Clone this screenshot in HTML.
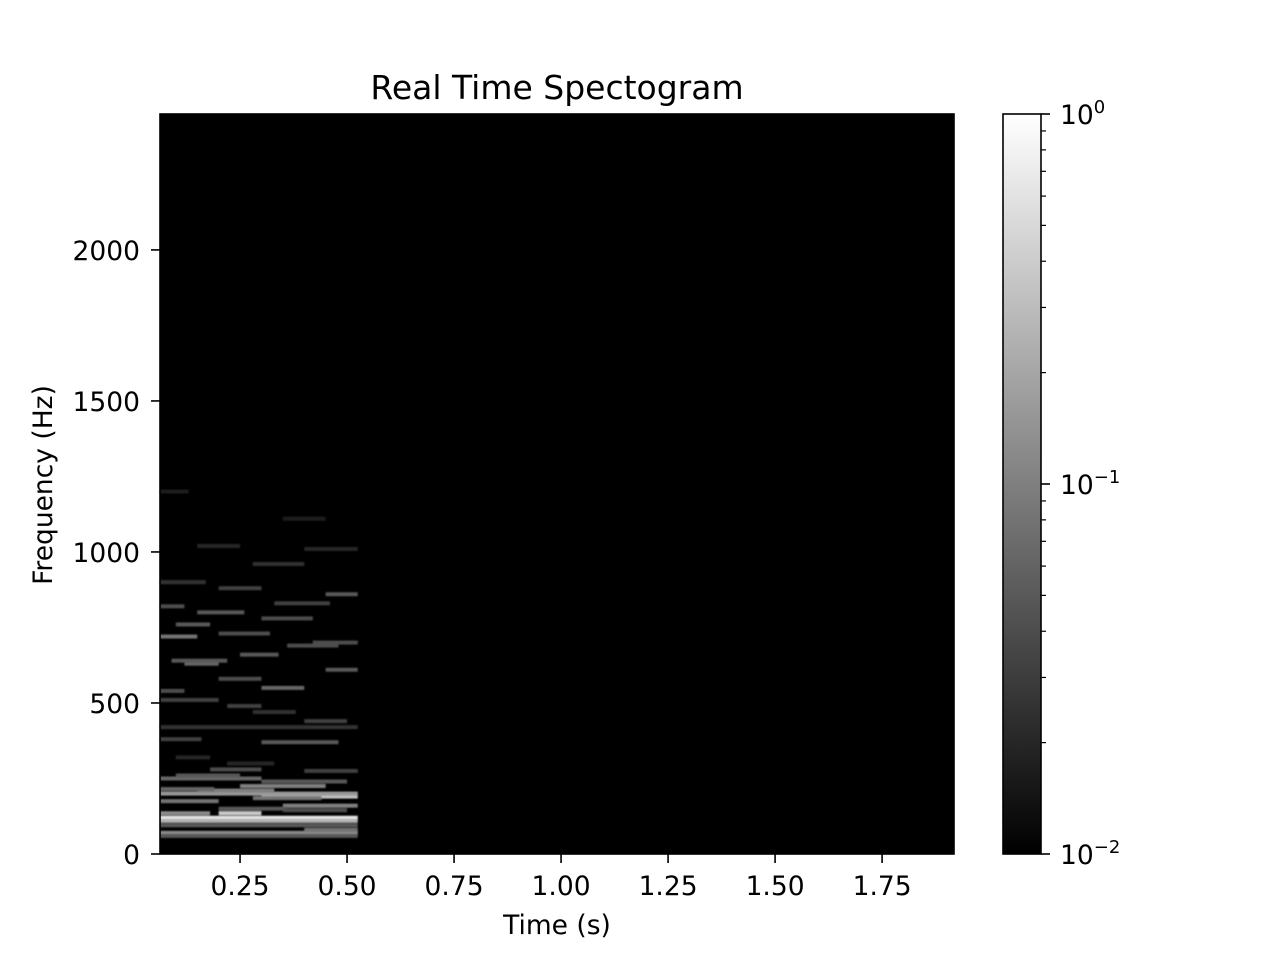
<!DOCTYPE html>
<html><head><meta charset="utf-8"><style>
body{margin:0;background:#fff;}
svg text{font-family:"DejaVu Sans","Liberation Sans",sans-serif;fill:#000;}
</style></head><body>
<svg id="chart" width="1280" height="960" xmlns="http://www.w3.org/2000/svg">
<defs>
<linearGradient id="cbg" x1="0" y1="1" x2="0" y2="0">
<stop offset="0" stop-color="#000"/><stop offset="1" stop-color="#fff"/>
</linearGradient>
<filter id="blur"><feGaussianBlur stdDeviation="0.8"/></filter>
</defs>
<text x="557" y="99" font-size="33" text-anchor="middle">Real Time Spectogram</text>
<rect x="160" y="114" width="794" height="740" fill="#000"/>
<g id="cells" filter="url(#blur)"></g>
<rect x="160" y="114" width="794" height="740" fill="none" stroke="#000" stroke-width="1.6"/>
<g id="xt"></g>
<g id="yt"></g>
<text x="557" y="934" font-size="26.5" text-anchor="middle">Time (s)</text>
<text transform="translate(52,485) rotate(-90)" font-size="26.5" text-anchor="middle">Frequency (Hz)</text>
<rect x="1003" y="114" width="38" height="740" fill="url(#cbg)" stroke="#000" stroke-width="1.6"/>
<g id="cb"></g>
</svg>
<script>
const xTicks=[0.25,0.5,0.75,1.0,1.25,1.5,1.75];
const xLabels=["0.25","0.50","0.75","1.00","1.25","1.50","1.75"];
const yTicks=[0,500,1000,1500,2000];
const tMin=0.063,tMax=1.918,fMax=2450;
// segments: start time, end time, frequency (Hz), level (0-1 grey)
const segStart=[0.063,0.063,0.2,0.063,0.3,0.063,0.15,0.35,0.063,0.25,0.063,0.4,0.063,0.1,0.3,0.063,0.2,0.35,0.063,0.28,0.063,0.18,0.4,0.063,0.3,0.063,0.063,0.3,0.2,0.45,0.12,0.09,0.25,0.36,0.063,0.2,0.42,0.1,0.3,0.15,0.063,0.33,0.45,0.2,0.063,0.28,0.4,0.15,0.063,0.35,0.22,0.1,0.4,0.28,0.063,0.22];
const segEnd=[0.525,0.525,0.3,0.18,0.525,0.525,0.33,0.525,0.2,0.45,0.525,0.525,0.3,0.25,0.5,0.525,0.36,0.5,0.19,0.44,0.525,0.3,0.525,0.16,0.48,0.525,0.12,0.4,0.3,0.525,0.2,0.22,0.34,0.48,0.15,0.32,0.525,0.18,0.42,0.26,0.12,0.46,0.525,0.3,0.17,0.4,0.525,0.25,0.13,0.45,0.33,0.18,0.5,0.38,0.2,0.3];
const segFreq=[120,110,135,135,190,200,210,160,175,225,70,80,250,260,240,95,150,145,215,185,60,280,275,380,370,420,540,550,580,610,630,640,660,690,720,730,700,760,780,800,820,830,860,880,900,960,1010,1020,1200,1110,300,320,440,470,510,490];
const segLevel=[0.9,0.7,0.8,0.55,0.75,0.6,0.5,0.5,0.45,0.5,0.55,0.45,0.4,0.35,0.35,0.35,0.35,0.3,0.4,0.45,0.35,0.3,0.25,0.25,0.35,0.2,0.3,0.4,0.3,0.35,0.4,0.35,0.35,0.3,0.45,0.3,0.3,0.35,0.3,0.35,0.3,0.25,0.35,0.25,0.2,0.2,0.15,0.15,0.12,0.12,0.15,0.15,0.25,0.2,0.25,0.25];
const X=t=>160+(t-tMin)/(tMax-tMin)*794;
const Y=f=>854-f/fMax*740;
const NS="http://www.w3.org/2000/svg";
function mk(tag,attrs,parent){const e=document.createElementNS(NS,tag);for(const k in attrs)e.setAttribute(k,attrs[k]);parent.appendChild(e);return e;}
const cells=document.getElementById('cells');
for(let i=0;i<segStart.length;i++){
 const g=Math.round(segLevel[i]*255);
 const r=mk('rect',{x:X(segStart[i]),y:Y(segFreq[i])-2,width:X(segEnd[i])-X(segStart[i]),height:4,fill:`rgb(${g},${g},${g})`},cells);
 
 
}
const xt=document.getElementById('xt');
xTicks.forEach((v,i)=>{const x=X(v);
 mk('line',{x1:x,x2:x,y1:854,y2:863,stroke:'#000','stroke-width':1.6},xt);
 const t=mk('text',{x:x,y:895,'font-size':26.5,'text-anchor':'middle'},xt);t.textContent=xLabels[i];
 
 });
const yt=document.getElementById('yt');
yTicks.forEach(v=>{const y=Y(v);
 mk('line',{x1:151,x2:160,y1:y,y2:y,stroke:'#000','stroke-width':1.6},yt);
 const t=mk('text',{x:140,y:y+10,'font-size':26.5,'text-anchor':'end'},yt);t.textContent=v;
 
 });
const cb=document.getElementById('cb');
const CY=v=>854-(Math.log10(v)+2)/2*740;
[0.01,0.1,1].forEach((v,i)=>{const y=CY(v);
 mk('line',{x1:1041,x2:1050,y1:y,y2:y,stroke:'#000','stroke-width':1.6},cb);
 const t=mk('text',{x:1060,y:y+10,'font-size':26.5},cb);
 t.innerHTML='10<tspan dy="-11" font-size="18">'+(i==0?'\u22122':i==1?'\u22121':'0')+'</tspan>';
 
 });
for(const d of [0.01,0.1])for(let m=2;m<10;m++){const y=CY(d*m);
 mk('line',{x1:1041,x2:1046,y1:y,y2:y,stroke:'#000','stroke-width':1.2},cb);}
</script>
</body></html>
